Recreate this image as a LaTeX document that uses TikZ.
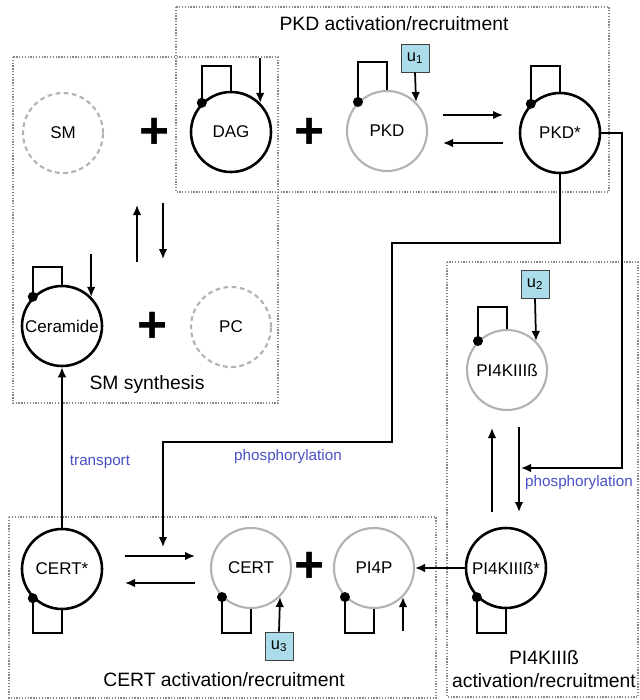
\documentclass[tikz,border=0pt]{standalone}
\usepackage{fontspec}
\setmainfont{Liberation Sans}
\usetikzlibrary{calc,positioning,arrows.meta}
\definecolor{ubox}{RGB}{172,220,234}
\definecolor{pblue}{RGB}{72,80,196}
\definecolor{lgray}{RGB}{178,178,178}
\definecolor{boxgray}{RGB}{135,135,135}

\tikzset{
  species/.style={circle, draw=black, line width=2.2pt, minimum size=24mm, inner sep=0pt,
    font=\fontsize{14.5}{15}\selectfont},
  inactive/.style={species, draw=lgray, line width=1.8pt},
  absent/.style={species, draw=lgray, line width=1.8pt, dash pattern=on 4pt off 3pt},
  input/.style={draw=black!75, fill=ubox, minimum size=8.4mm, inner sep=0pt, line width=0.8pt,
    font=\fontsize{14}{14}\selectfont},
  region/.style={draw=boxgray, line width=0.9pt, dash pattern=on 1.1pt off 1.3pt},
  link/.style={line width=1.5pt},
  bind/.style={font=\bfseries\fontsize{44}{44}\selectfont, inner sep=0pt},
  rname/.style={font=\fontsize{16.5}{19}\selectfont, align=center},
  act/.style={text=pblue, font=\fontsize{13}{14}\selectfont},
  >={Latex[length=3mm,width=2.6mm]}
}

\begin{document}
\begin{tikzpicture}[x=0.3mm,y=-0.3mm]
\useasboundingbox (0,0) rectangle (639,700);

% dotted regions
\draw[region] (13,57) rectangle (278,403);
\draw[region] (176,7) rectangle (609,192);
\draw[region] (447,262) rectangle (638,697);
\draw[region] (9,517) rectangle (436,698);

\node[rname] (lPKD) at (394,24) {PKD activation/recruitment};
\node[rname] (lSM) at (147,384) {SM synthesis};
\node[rname] (lCERT) at (224,680) {CERT activation/recruitment};
\node[rname] (lPIK) at (544,669) {PI4KIIIß\\activation/recruitment};

% species
\node[absent] (SM) at (63,133) {SM};
\node[species] (DAG) at (231,132) {DAG};
\node[inactive] (PKD) at (387,131) {PKD};
\node[species] (PKDa) at (560,133) {PKD*};
\node[species] (Cer) at (62,326) {Ceramide};
\node[absent] (PC) at (231,327) {PC};
\node[inactive] (PIK) at (507,370) {PI4KIIIß};
\node[species] (CERTa) at (62,569) {CERT*};
\node[inactive] (CERT) at (251,568) {CERT};
\node[inactive] (PIP) at (374,568) {PI4P};
\node[species] (PIKa) at (506,568) {PI4KIIIß*};

\node[bind] (plusA) at (155,133) {+};
\node[bind] (plusB) at (310,133) {+};
\node[bind] (plusC) at (153,327) {+};
\node[bind] (plusD) at (310,567) {+};

% inputs
\node[input] (u1) at (415,58) {u\textsubscript{1}};
\node[input] (u2) at (535,284) {u\textsubscript{2}};
\node[input] (u3) at (279,646) {u\textsubscript{3}};
\draw[link,->] (u1.south) -- (PKD.45);
\draw[link,->] (u2.south) -- (PIK.45);
\draw[link,->] (u3.north) -- (CERT.-45);

\coordinate (DAGin) at ($(DAG.45)+(0,-45)$);
\coordinate (Cerin) at ($(Cer.45)+(0,-43)$);
\coordinate (PIPin) at ($(PIP.-45)+(0,34)$);
\draw[link,->] (DAGin) -- (DAG.45);
\draw[link,->] (Cerin) -- (Cer.45);
\draw[link,->] (PIPin) -- (PIP.-45);

% self loops
\draw[link] (DAG.135) |- ($(DAG.north)+(0,-25)$) -- (DAG.north);
\fill (DAG.135) circle[radius=1.5mm];
\draw[link] (PKD.135) |- ($(PKD.north)+(0,-28)$) -- (PKD.north);
\fill (PKD.135) circle[radius=1.5mm];
\draw[link] (PKDa.135) |- ($(PKDa.north)+(0,-26)$) -- (PKDa.north);
\fill (PKDa.135) circle[radius=1.5mm];
\draw[link] (Cer.135) |- ($(Cer.north)+(0,-18)$) -- (Cer.north);
\fill (Cer.135) circle[radius=1.5mm];
\draw[link] (PIK.135) |- ($(PIK.north)+(0,-22)$) -- (PIK.north);
\fill (PIK.135) circle[radius=1.5mm];
\draw[link] (CERTa.-135) |- ($(CERTa.south)+(0,23)$) -- (CERTa.south);
\fill (CERTa.-135) circle[radius=1.5mm];
\draw[link] (CERT.-135) |- ($(CERT.south)+(0,24)$) -- (CERT.south);
\fill (CERT.-135) circle[radius=1.5mm];
\draw[link] (PIP.-135) |- ($(PIP.south)+(0,24)$) -- (PIP.south);
\fill (PIP.-135) circle[radius=1.5mm];
\draw[link] (PIKa.-135) |- ($(PIKa.south)+(0,24)$) -- (PIKa.south);
\fill (PIKa.-135) circle[radius=1.5mm];

% reactions
\coordinate (kfA) at (443,115); \coordinate (kfB) at (503,115);
\coordinate (kbA) at (503,143); \coordinate (kbB) at (443,143);
\draw[link,->] (kfA) -- (kfB);
\draw[link,->] (kbA) -- (kbB);
\coordinate (sUpA) at (137,262); \coordinate (sUpB) at (137,205);
\coordinate (sDnA) at (163,203); \coordinate (sDnB) at (163,259);
\draw[link,->] (sUpA) -- (sUpB);
\draw[link,->] (sDnA) -- (sDnB);
\coordinate (cfA) at (125,556); \coordinate (cfB) at (195,556);
\coordinate (cbA) at (195,583); \coordinate (cbB) at (125,583);
\draw[link,->] (cfA) -- (cfB);
\draw[link,->] (cbA) -- (cbB);
\coordinate (pUpA) at (492,512); \coordinate (pUpB) at (492,428);
\coordinate (pDnA) at (519,427); \coordinate (pDnB) at (519,512);
\draw[link,->] (pUpA) -- (pUpB);
\draw[link,->] (pDnA) -- (pDnB);

\draw[link,->] (PIKa.west) -- (PIP.east);
\draw[link,->] (CERTa.north) -- (Cer.south);
\node[act] (tTrans) at (100,462) {transport};

% phosphorylation by PKD*
\coordinate (bendP) at (622,468);
\coordinate (phP) at (521,468);
\draw[link,->] (PKDa.east) -| (bendP) -- (phP);
\node[act] (tPhosP) at (579,483) {phosphorylation};
\coordinate (bendA) at (392,243);
\coordinate (bendB) at (163,442);
\coordinate (phC) at (163,547);
\draw[link,->] (PKDa.south) |- (bendA) |- (bendB) -- (phC);
\node[act] (tPhosC) at (288,457) {phosphorylation};
\end{tikzpicture}
\end{document}
